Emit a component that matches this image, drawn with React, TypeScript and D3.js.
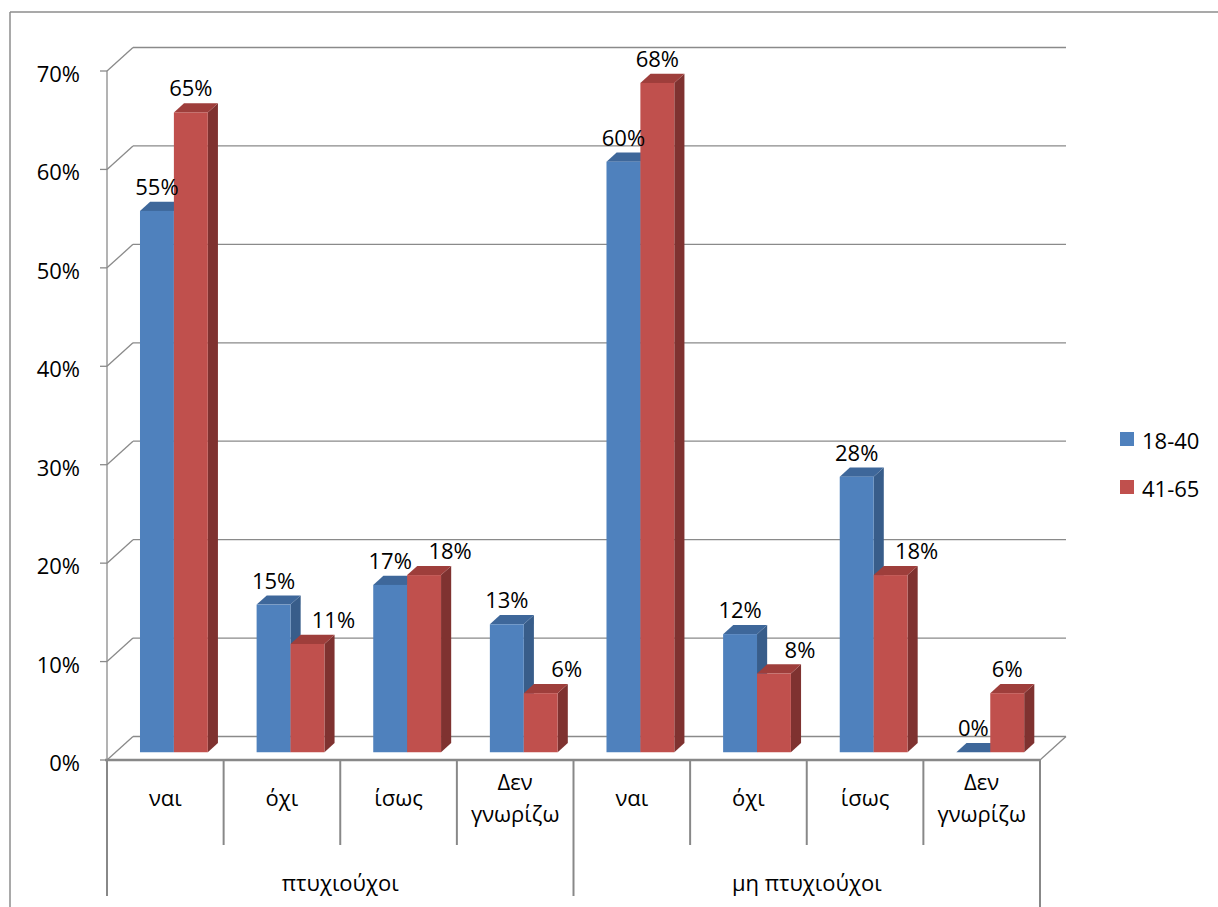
import React from "react";
import * as d3 from "d3";

const categories: string[][] = [
  ["ναι"], ["όχι"], ["ίσως"], ["Δεν", "γνωρίζω"],
  ["ναι"], ["όχι"], ["ίσως"], ["Δεν", "γνωρίζω"],
];
const groups = ["πτυχιούχοι", "μη πτυχιούχοι"];
const seriesNames = ["18-40", "41-65"];
const values1840 = [55, 15, 17, 13, 60, 12, 28, 0];
const values4165 = [65, 11, 18, 6, 68, 8, 18, 6];
const yTicks = [0, 10, 20, 30, 40, 50, 60, 70];

const W = 1218, H = 907;
const FONT = "'Open Sans', 'Noto Sans', sans-serif";
const FS = 22;

const frontLeft = 107, frontRight = 1040;
const DX = 26, DY = -23.5; // full depth offset
const BAR_F0 = 0.33, BAR_F1 = 0.72;

const colors = [
  { front: "#4F81BD", top: "#3E679A", side: "#385D8A" },
  { front: "#C0504D", top: "#9E3E3B", side: "#7F3230" },
];

export default function App() {
  const y = d3.scaleLinear().domain([0, 70]).range([760, 71]);
  const x = d3.scaleBand<number>().domain(d3.range(categories.length)).range([frontLeft, frontRight]);
  const xs = d3.scaleBand<string>().domain(seriesNames).range([0, x.bandwidth()]).paddingInner(0).paddingOuter(0.72);
  const series = [values1840, values4165];
  const grid = "#8a8a8a";

  const bars: JSX.Element[] = [];
  const labels: JSX.Element[] = [];
  categories.forEach((_, i) => {
    series.forEach((vals, s) => {
      const v = vals[i];
      const x0 = (x(i) as number) + (xs(seriesNames[s]) as number) + DX * BAR_F0;
      const w = xs.bandwidth();
      const yb = y(0) + DY * BAR_F0;
      const yt = y(v) + DY * BAR_F0;
      const ddx = DX * (BAR_F1 - BAR_F0), ddy = DY * (BAR_F1 - BAR_F0);
      const c = colors[s];
      bars.push(
        <g key={`b${i}-${s}`}>
          <polygon points={`${x0 + w},${yt} ${x0 + w + ddx},${yt + ddy} ${x0 + w + ddx},${yb + ddy} ${x0 + w},${yb}`} fill={c.side} />
          <polygon points={`${x0},${yt} ${x0 + ddx},${yt + ddy} ${x0 + w + ddx},${yt + ddy} ${x0 + w},${yt}`} fill={c.top} />
          {v > 0 && <rect x={x0} y={yt} width={w} height={yb - yt} fill={c.front} />}
        </g>
      );
      let lx = x0 + w / 2;
      if (s === 1 && v <= series[0][i] + 1) lx += 26;
      labels.push(
        <text key={`l${i}-${s}`} x={lx} y={yt - 25} textAnchor="middle" dominantBaseline="central"
          fontFamily={FONT} fontSize={FS} fill="#000">{v}%</text>
      );
    });
  });

  const catW = x.bandwidth();
  return (
    <svg width={W} height={H} style={{ position: "absolute", left: 0, top: 0, background: "#fff" }}>
      {/* outer border */}
      <line x1={10} y1={12} x2={W} y2={12} stroke="#8c8c8c" strokeWidth={1.5} />
      <line x1={10} y1={12} x2={10} y2={H} stroke="#8c8c8c" strokeWidth={1.5} />

      {/* gridlines: front tick, slanted wall line, back line */}
      {yTicks.map((t) => (
        <g key={`g${t}`}>
          <line x1={frontLeft - 7} y1={y(t)} x2={frontLeft} y2={y(t)} stroke={grid} strokeWidth={1.3} />
          <line x1={frontLeft} y1={y(t)} x2={frontLeft + DX} y2={y(t) + DY} stroke={grid} strokeWidth={1.3} />
          <line x1={frontLeft + DX} y1={y(t) + DY} x2={frontRight + DX} y2={y(t) + DY} stroke={grid} strokeWidth={1.3} />
          <text x={80} y={y(t) + 2} textAnchor="end" dominantBaseline="central" fontFamily={FONT} fontSize={FS} fill="#000">{t}%</text>
        </g>
      ))}
      {/* floor right edge */}
      <line x1={frontRight} y1={y(0)} x2={frontRight + DX} y2={y(0) + DY} stroke={grid} strokeWidth={1.3} />
      {/* vertical axis */}
      <line x1={frontLeft} y1={y(70)} x2={frontLeft} y2={y(0)} stroke={grid} strokeWidth={1.3} />

      {bars}

      {/* category axis */}
      <line x1={frontLeft - 2} y1={y(0)} x2={frontRight} y2={y(0)} stroke="#888" strokeWidth={2.5} />
      {d3.range(categories.length + 1).map((i) => {
        const xx = frontLeft + i * catW;
        const isGroup = i % 4 === 0;
        return <line key={`d${i}`} x1={xx} y1={y(0)} x2={xx} y2={isGroup ? (i === 8 ? H : 896) : 845} stroke="#888" strokeWidth={2} />;
      })}
      {categories.map((lines, i) => {
        const cx = (x(i) as number) + catW / 2;
        const cy = lines.length === 1 ? 797 : 781;
        return (
          <text key={`c${i}`} x={cx} y={cy} textAnchor="middle" dominantBaseline="central" fontFamily={FONT} fontSize={FS} fill="#000">
            {lines.map((l, k) => <tspan key={k} x={cx} dy={k === 0 ? 0 : 32}>{l}</tspan>)}
          </text>
        );
      })}
      {groups.map((g, gi) => (
        <text key={`gr${gi}`} x={frontLeft + (gi * 4 + 2) * catW} y={882} textAnchor="middle" dominantBaseline="central" fontFamily={FONT} fontSize={FS} fill="#000">{g}</text>
      ))}

      {labels}

      {/* legend */}
      {seriesNames.map((n, i) => (
        <g key={`lg${i}`}>
          <rect x={1120} y={432 + i * 48} width={14} height={14} fill={colors[i].front} />
          <text x={1142} y={440 + i * 48} dominantBaseline="central" fontFamily={FONT} fontSize={FS} fill="#000">{n}</text>
        </g>
      ))}
    </svg>
  );
}
